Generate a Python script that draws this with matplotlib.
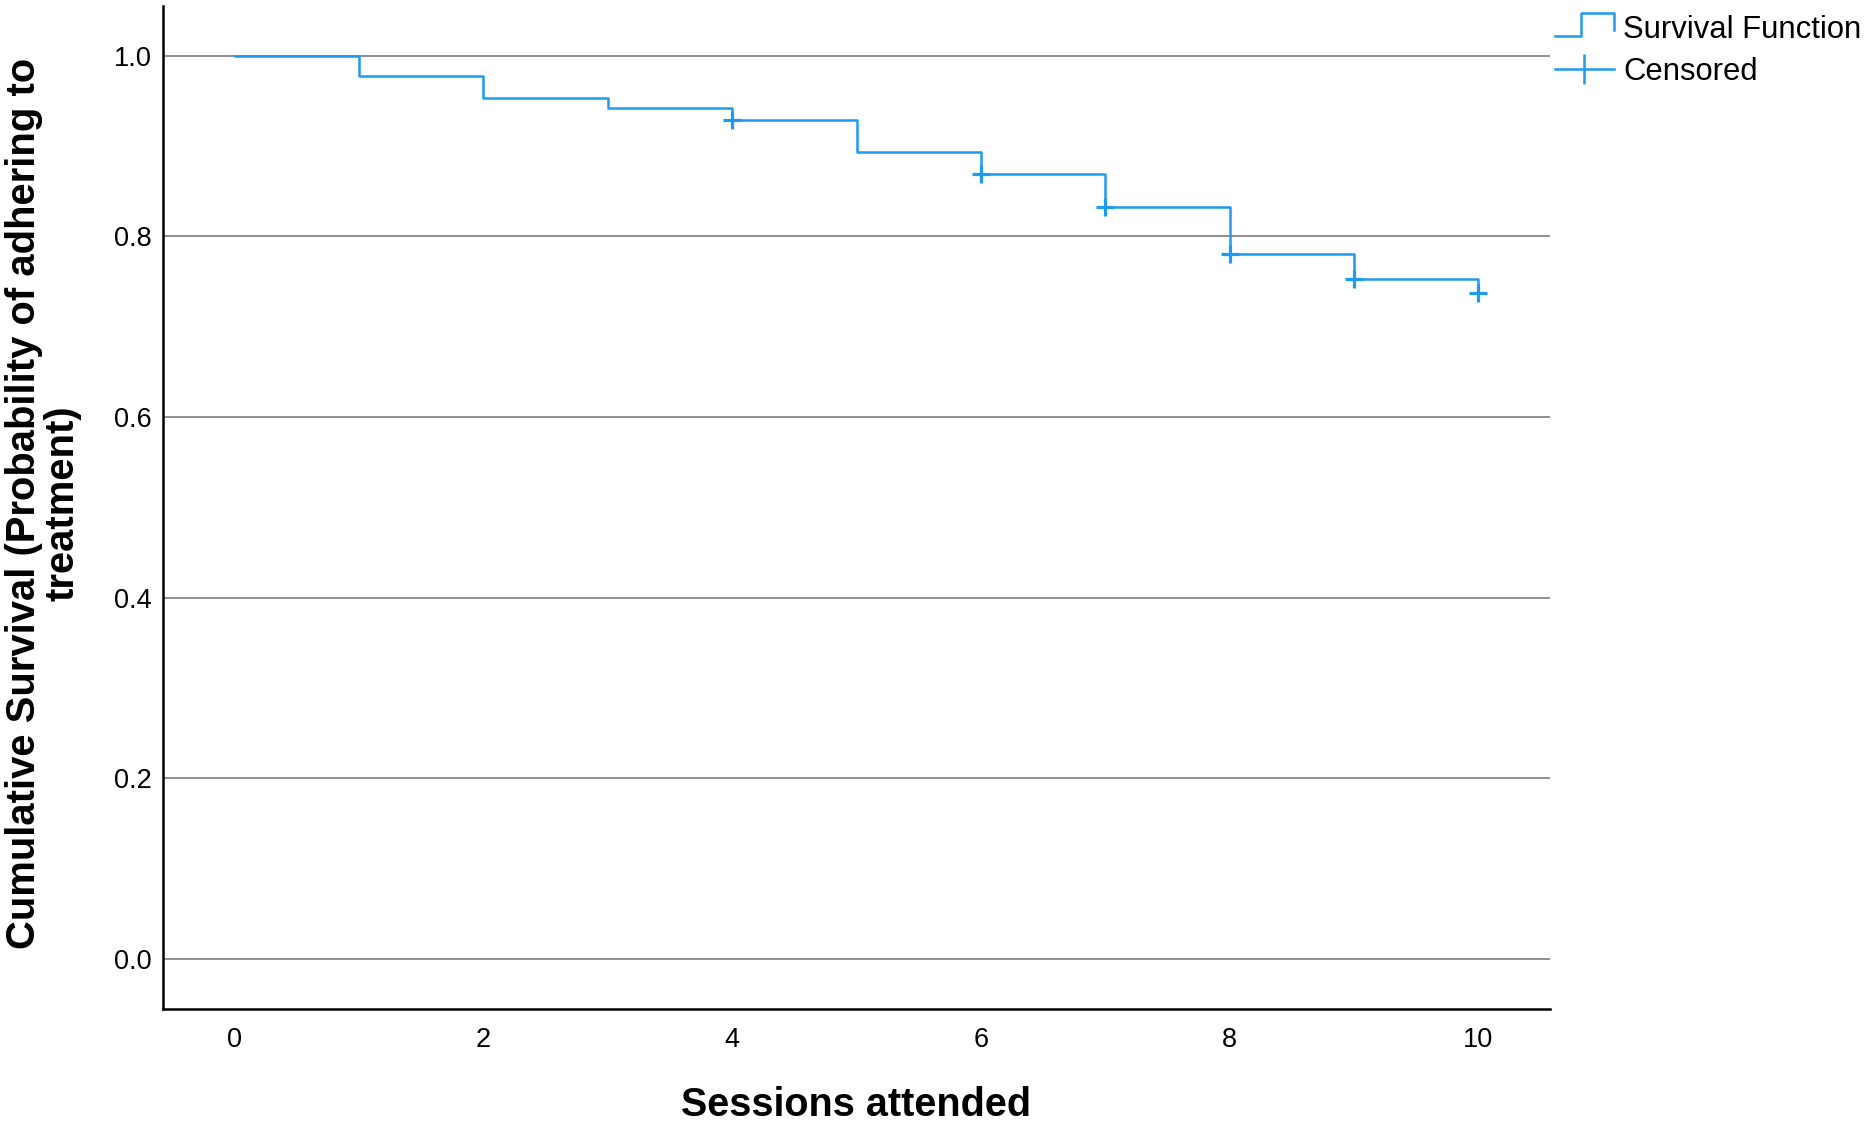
import matplotlib
matplotlib.use("Agg")
import matplotlib.pyplot as plt
from matplotlib.lines import Line2D
from matplotlib.legend_handler import HandlerBase

# ---- data ----
times = [0, 1, 2, 3, 4, 5, 6, 7, 8, 9, 10]
survival = [1.0, 0.978, 0.953, 0.942, 0.929, 0.893, 0.869, 0.832, 0.780, 0.753, 0.737]
censor_times = [4, 6, 7, 8, 9, 10]
censor_surv = [survival[times.index(t)] for t in censor_times]
x_ticks = [0, 2, 4, 6, 8, 10]
y_ticks = [0.0, 0.2, 0.4, 0.6, 0.8, 1.0]
x_label = "Sessions attended"
y_label = "Cumulative Survival (Probability of adhering to\ntreatment)"
legend_labels = ["Survival Function", "Censored"]

BLUE = "#1E9BF0"
plt.rcParams["font.family"] = ["Liberation Sans", "DejaVu Sans"]

fig = plt.figure(figsize=(18.67, 11.27), dpi=100)
ax = fig.add_axes([163 / 1867, 1 - 1008.5 / 1127, (1550 - 163) / 1867, (1008.5 - 6) / 1127])

for yv in y_ticks:
    ax.axhline(yv, color="#8f8f8f", lw=1.4, zorder=1)

ax.step(times, survival, where="post", color=BLUE, lw=1.8, zorder=3)
ax.plot(censor_times, censor_surv, linestyle="none", marker="+", markersize=13,
        markeredgewidth=2.3, color=BLUE, zorder=4)

ax.set_xlim(-0.575, 10.575)
ax.set_ylim(-0.055, 1.055)
ax.set_xticks(x_ticks)
ax.set_xticklabels([str(v) for v in x_ticks])
ax.set_yticks(y_ticks)
ax.set_yticklabels([f"{v:.1f}" for v in y_ticks])
ax.tick_params(axis="both", length=0, labelsize=19.5, colors="black")
ax.tick_params(axis="x", pad=13)
ax.tick_params(axis="y", pad=8)

for s in ["top", "right"]:
    ax.spines[s].set_visible(False)
for s in ["left", "bottom"]:
    ax.spines[s].set_linewidth(1.8)
    ax.spines[s].set_color("black")

fig.text(856.5 / 1867, 1 - 1105 / 1127, x_label, ha="center", va="center",
         fontsize=28.5, fontweight="bold")
fig.text(43 / 1867, 1 - 503 / 1127, y_label, ha="center", va="center",
         rotation=90, fontsize=28.8, fontweight="bold", multialignment="center",
         linespacing=1.0)


class StepHandler(HandlerBase):
    def create_artists(self, legend, orig_handle, xdescent, ydescent, width,
                       height, fontsize, trans):
        x0 = -xdescent
        y0 = -ydescent
        xs = [x0, x0 + 0.45 * width, x0 + 0.45 * width, x0 + width, x0 + width]
        ys = [y0 + 0.1 * height, y0 + 0.1 * height, y0 + 1.15 * height,
              y0 + 1.15 * height, y0 + 0.35 * height]
        ln = Line2D(xs, ys, color=BLUE, lw=1.8, transform=trans)
        return [ln]


step_handle = Line2D([], [], color=BLUE)
cens_handle = Line2D([], [], color=BLUE, lw=1.8, marker="|", markersize=22,
                     markeredgewidth=1.8)
fig.legend([step_handle, cens_handle], legend_labels,
           handler_map={step_handle: StepHandler()},
           loc="upper left", bbox_to_anchor=(1555 / 1867, 1 - 15 / 1127),
           frameon=False, fontsize=22.3, handlelength=1.9, handletextpad=0.3,
           borderpad=0, borderaxespad=0, labelspacing=0.38, numpoints=1)

fig.savefig("out.png", dpi=100)
